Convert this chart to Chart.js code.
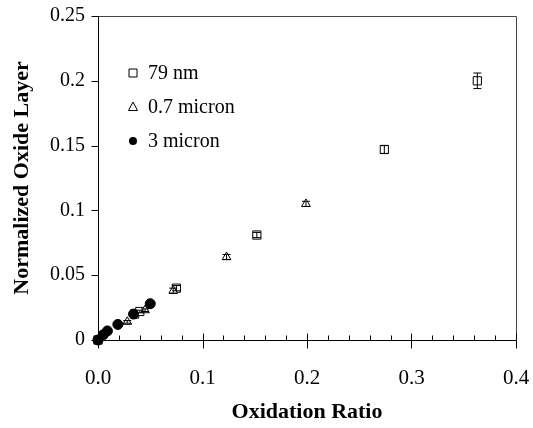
<!DOCTYPE html>
<html>
<head>
<meta charset="utf-8">
<script src="https://cdn.jsdelivr.net/npm/chart.js@4.4.1/dist/chart.umd.min.js"></script>
<style>
  html, body { margin: 0; padding: 0; background: #fff; }
</style>
</head>
<body>
<canvas id="oxideChart" width="533" height="428"></canvas>
<script>
// Axis ticks
const xTicks = [0, 0.1, 0.2, 0.3, 0.4];
const yTicks = [0, 0.05, 0.1, 0.15, 0.2, 0.25];

// 79 nm particles
const nmX = [0, 0.035, 0.040, 0.075, 0.152, 0.274, 0.363];
const nmY = [0, 0.020, 0.022, 0.040, 0.081, 0.147, 0.200];
const nmErr = [0, 0.001, 0.001, 0.002, 0.002, 0.003, 0.006];

// 0.7 micron particles
const subX = [0, 0.028, 0.045, 0.072, 0.123, 0.199];
const subY = [0, 0.014, 0.023, 0.038, 0.064, 0.105];
const subErr = [0, 0.001, 0.001, 0.002, 0.002, 0.002];

// 3 micron particles
const micX = [0, 0.005, 0.009, 0.019, 0.034, 0.050];
const micY = [0, 0.004, 0.007, 0.012, 0.020, 0.028];

const seriesNames = ["79 nm", "0.7 micron", "3 micron"];

const serif = "'Liberation Serif', 'Times New Roman', serif";
const toPoints = (xs, ys) => xs.map((x, i) => ({ x: x, y: ys[i] }));

// Vertical error bars with caps
const errorBars = {
    id: "errorBars",
    afterDatasetsDraw(chart) {
        const ctx = chart.ctx;
        const ys = chart.scales.y;
        ctx.save();
        ctx.strokeStyle = "#000";
        ctx.lineWidth = 1;
        chart.data.datasets.forEach((ds, di) => {
            if (!ds.errors) return;
            const meta = chart.getDatasetMeta(di);
            meta.data.forEach((pt, i) => {
                const e = ds.errors[i];
                if (!e) return;
                const v = ds.data[i].y;
                const top = ys.getPixelForValue(v + e);
                const bot = ys.getPixelForValue(v - e);
                ctx.beginPath();
                ctx.moveTo(pt.x, top); ctx.lineTo(pt.x, bot);
                ctx.moveTo(pt.x - 4, top); ctx.lineTo(pt.x + 4, top);
                ctx.moveTo(pt.x - 4, bot); ctx.lineTo(pt.x + 4, bot);
                ctx.stroke();
            });
        });
        ctx.restore();
    }
};

// Frame and tick marks
const frameTicks = {
    id: "frameTicks",
    beforeDatasetsDraw(chart) {
        const ctx = chart.ctx;
        const a = chart.chartArea;
        const xs = chart.scales.x, ys = chart.scales.y;
        const l = Math.round(a.left) + 0.5, r = Math.round(a.right) + 0.5;
        const t = Math.round(a.top) + 0.5, b = Math.round(a.bottom) + 0.5;
        ctx.save();
        ctx.lineWidth = 1;
        ctx.strokeStyle = "#444";
        ctx.beginPath();
        ctx.moveTo(l, t); ctx.lineTo(r, t); ctx.lineTo(r, b);
        ctx.stroke();
        ctx.strokeStyle = "#000";
        ctx.beginPath();
        ctx.moveTo(l, t); ctx.lineTo(l, b); ctx.lineTo(r, b);
        for (let i = 0; i <= 20; i++) {
            const px = Math.round(xs.getPixelForValue(i * 0.02)) + 0.5;
            if (i % 5 === 0) {
                ctx.moveTo(px, b - 7); ctx.lineTo(px, b + 8);
            } else {
                ctx.moveTo(px, b - 5); ctx.lineTo(px, b);
            }
        }
        yTicks.forEach(v => {
            const py = Math.round(ys.getPixelForValue(v)) + 0.5;
            ctx.moveTo(l - 7, py); ctx.lineTo(l, py);
        });
        ctx.stroke();
        ctx.restore();
    }
};

// Legend inside the plot, top left
const innerLegend = {
    id: "innerLegend",
    afterDraw(chart) {
        const ctx = chart.ctx;
        const a = chart.chartArea;
        const mx = a.left + 35, tx = a.left + 50;
        ctx.save();
        ctx.font = "20px " + serif;
        ctx.fillStyle = "#000";
        ctx.strokeStyle = "#000";
        ctx.lineWidth = 1;
        ctx.textBaseline = "middle";
        seriesNames.forEach((name, i) => {
            const cy = a.top + 57 + i * 34;
            ctx.beginPath();
            if (i === 0) {
                ctx.rect(mx - 4, cy - 4, 8, 8);
                ctx.stroke();
            } else if (i === 1) {
                ctx.moveTo(mx, cy - 5); ctx.lineTo(mx + 4.5, cy + 3.5); ctx.lineTo(mx - 4.5, cy + 3.5);
                ctx.closePath();
                ctx.stroke();
            } else {
                ctx.arc(mx, cy, 4, 0, Math.PI * 2);
                ctx.fill();
            }
            ctx.fillText(name, tx, cy + 1);
        });
        ctx.restore();
    }
};

new Chart(document.getElementById("oxideChart"), {
    type: "scatter",
    data: {
        datasets: [
            {
                label: seriesNames[0], data: toPoints(nmX, nmY), errors: nmErr, order: 3,
                pointStyle: "rect", radius: 5.8, borderColor: "#000", borderWidth: 1,
                backgroundColor: "#fff", clip: false
            },
            {
                label: seriesNames[1], data: toPoints(subX, subY), errors: subErr, order: 2,
                pointStyle: "triangle", radius: 5, borderColor: "#000", borderWidth: 1,
                backgroundColor: "#fff", clip: false
            },
            {
                label: seriesNames[2], data: toPoints(micX, micY), order: 1,
                pointStyle: "circle", radius: 5, borderColor: "#000", borderWidth: 1,
                backgroundColor: "#000", clip: false
            }
        ]
    },
    options: {
        responsive: false,
        animation: false,
        layout: { padding: { top: 16, right: 17, left: 0, bottom: 0 } },
        plugins: {
            legend: { display: false },
            tooltip: { enabled: false }
        },
        scales: {
            x: {
                type: "linear", min: 0, max: 0.4,
                afterBuildTicks: s => { s.ticks = xTicks.map(v => ({ value: v })); },
                afterFit: s => { s.height = 88; s.paddingLeft = 0; s.paddingRight = 0; },
                grid: { display: false, drawTicks: false },
                border: { display: false },
                ticks: {
                    color: "#000", padding: 26,
                    font: { family: serif, size: 21 },
                    callback: v => v.toFixed(1)
                },
                title: {
                    display: true, text: "Oxidation Ratio", color: "#000",
                    font: { family: serif, size: 22, weight: "bold" },
                    padding: { top: 0, bottom: 2 }
                }
            },
            y: {
                type: "linear", min: 0, max: 0.25,
                afterBuildTicks: s => { s.ticks = yTicks.map(v => ({ value: v })); },
                afterFit: s => { s.width = 98; s.paddingTop = 0; s.paddingBottom = 0; },
                grid: { display: false, drawTicks: false },
                border: { display: false },
                ticks: {
                    color: "#000", padding: 13,
                    font: { family: serif, size: 20 },
                    callback: v => String(v)
                },
                title: {
                    display: true, text: "Normalized Oxide Layer", color: "#000",
                    font: { family: serif, size: 22, weight: "bold" },
                    padding: { top: 9, bottom: 0 }
                }
            }
        }
    },
    plugins: [errorBars, frameTicks, innerLegend]
});
</script>
</body>
</html>
